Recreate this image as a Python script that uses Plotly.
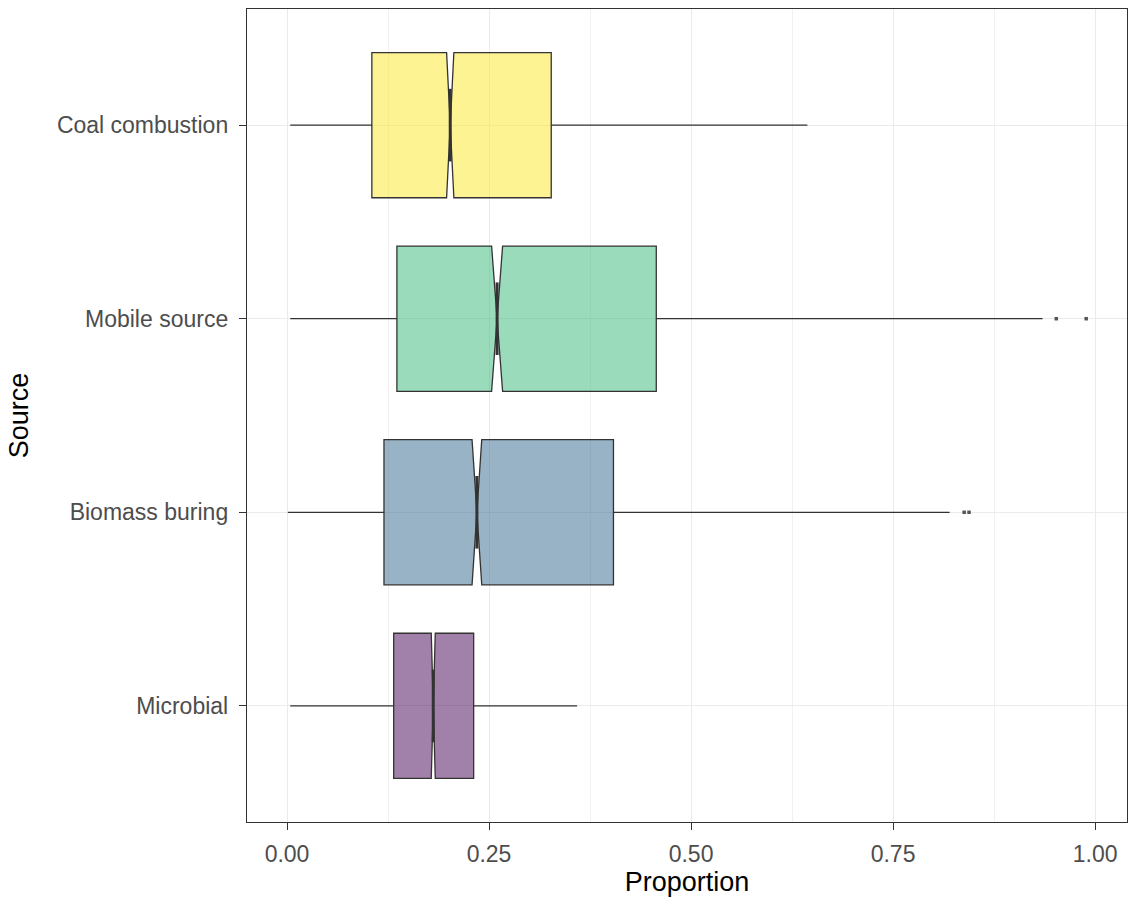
import plotly.graph_objects as go

categories = ["Microbial", "Biomass buring", "Mobile source", "Coal combustion"]
lower_fence = [0.004, 0.001, 0.004, 0.004]
q1 = [0.132, 0.120, 0.136, 0.105]
median = [0.181, 0.235, 0.260, 0.202]
q3 = [0.231, 0.404, 0.457, 0.327]
upper_fence = [0.359, 0.820, 0.935, 0.644]
notch_span = [0.0025, 0.006, 0.0068, 0.0045]
outliers = [[], [0.838, 0.844], [0.952, 0.989], []]
fill_colors = ["rgba(68,1,84,0.5)", "rgba(49,104,142,0.5)",
               "rgba(53,183,121,0.5)", "rgba(253,231,37,0.5)"]

x_ticks = [0.0, 0.25, 0.5, 0.75, 1.0]
x_tick_labels = ["0.00", "0.25", "0.50", "0.75", "1.00"]

BOX_W = 0.75
NOTCH_W = 0.5
LINE_C = "#333333"

fig = go.Figure()
for i, cat in enumerate(categories):
    fig.add_trace(go.Box(
        orientation="h",
        y=[i],
        q1=[q1[i]], median=[median[i]], q3=[q3[i]],
        lowerfence=[lower_fence[i]], upperfence=[upper_fence[i]],
        notchspan=[notch_span[i]],
        notched=True, notchwidth=NOTCH_W,
        width=BOX_W, whiskerwidth=0,
        fillcolor=fill_colors[i],
        line=dict(color=LINE_C, width=1.3),
        boxpoints=False, showlegend=False, name=cat,
    ))
    half = BOX_W * NOTCH_W / 2
    fig.add_trace(go.Scatter(
        x=[median[i], median[i]], y=[i - half, i + half],
        mode="lines", line=dict(color=LINE_C, width=3),
        showlegend=False, hoverinfo="skip",
    ))
    if outliers[i]:
        fig.add_trace(go.Scatter(
            x=outliers[i], y=[i] * len(outliers[i]),
            mode="markers", marker=dict(color="#555555", size=3.5, symbol="square"),
            showlegend=False,
        ))

fig.update_layout(
    width=1131, height=904,
    margin=dict(l=247, r=4, t=9, b=82),
    plot_bgcolor="white", paper_bgcolor="white",
    font=dict(family="Liberation Sans, Arial, sans-serif"),
)
fig.update_xaxes(
    range=[-0.0495, 1.0395],
    tickvals=x_ticks, ticktext=x_tick_labels,
    tickfont=dict(size=23, color="#4D4D4D"),
    ticks="outside", ticklen=7, tickcolor=LINE_C, tickwidth=1.1,
    ticklabelstandoff=4,
    showgrid=True, gridcolor="#EBEBEB", gridwidth=1.1,
    minor=dict(dtick=0.125, tick0=0.125, showgrid=True, gridcolor="#F1F1F1", gridwidth=0.8),
    showline=True, linecolor=LINE_C, linewidth=1.4, mirror=True,
    zeroline=False,
    title=dict(text="Proportion", font=dict(size=27, color="black"), standoff=4),
)
fig.update_yaxes(
    range=[-0.6, 3.6],
    tickvals=list(range(len(categories))), ticktext=categories,
    tickfont=dict(size=23, color="#4D4D4D"),
    ticks="outside", ticklen=7, tickcolor=LINE_C, tickwidth=1.1,
    ticklabelstandoff=6,
    showgrid=True, gridcolor="#EBEBEB", gridwidth=1.1,
    showline=True, linecolor=LINE_C, linewidth=1.4, mirror=True,
    zeroline=False,
    title=dict(text="Source", font=dict(size=27, color="black"), standoff=20),
)

fig.write_html("out.html", config={"displayModeBar": False},
               post_script="document.body.style.margin='0';")
